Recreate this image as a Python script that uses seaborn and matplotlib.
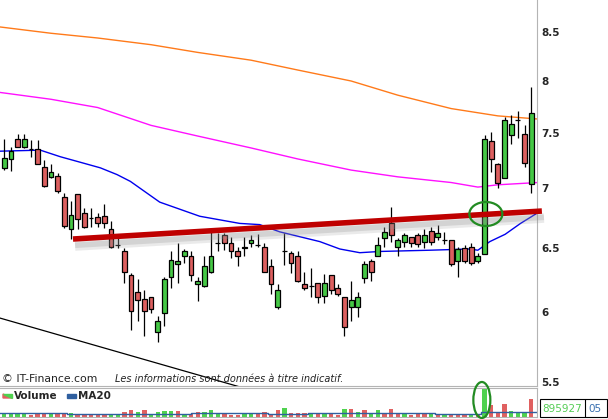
import numpy as np
import seaborn as sns
import matplotlib.pyplot as plt
import matplotlib.patheffects as pe
from matplotlib.patches import Ellipse, Rectangle, Polygon
from matplotlib.transforms import ScaledTranslation

sns.set_style("white")
plt.rcParams['font.family'] = ['DejaVu Sans']

# bougies
opens = [7.18, 7.26, 7.44, 7.37, 7.35, 7.35, 7.19, 7.10, 7.11, 6.92,
         6.65, 6.95, 6.79, 6.745, 6.75, 6.76, 6.65, 6.52, 6.47, 6.28,
         6.15, 6.10, 6.11, 5.85, 5.99, 6.27, 6.37, 6.43, 6.43, 6.21,
         6.20, 6.31, 6.54, 6.60, 6.54, 6.47, 6.51, 6.54, 6.52, 6.51,
         6.35, 6.04, 6.47, 6.46, 6.43, 6.21, 6.20, 6.22, 6.12, 6.28,
         6.18, 6.11, 6.04, 6.04, 6.26, 6.39, 6.43, 6.58, 6.70, 6.51,
         6.55, 6.59, 6.60, 6.55, 6.64, 6.59, 6.56, 6.56, 6.39, 6.50,
         6.51, 6.39, 6.45, 7.42, 7.21, 7.09, 7.48, 7.62, 7.49, 7.04]
highs = [7.44, 7.37, 7.49, 7.49, 7.43, 7.43, 7.25, 7.21, 7.13, 6.96,
         6.89, 6.95, 6.83, 6.83, 6.79, 6.86, 6.72, 6.60, 6.50, 6.30,
         6.25, 6.17, 6.11, 5.97, 6.27, 6.47, 6.54, 6.49, 6.47, 6.27,
         6.43, 6.63, 6.62, 6.62, 6.59, 6.51, 6.59, 6.60, 6.61, 6.54,
         6.41, 6.21, 6.62, 6.47, 6.47, 6.31, 6.34, 6.22, 6.29, 6.28,
         6.21, 6.11, 6.24, 6.15, 6.39, 6.41, 6.59, 6.67, 6.84, 6.58,
         6.62, 6.59, 6.62, 6.65, 6.67, 6.69, 6.63, 6.56, 6.51, 6.52,
         6.54, 6.46, 7.48, 7.51, 7.22, 7.65, 7.67, 7.71, 7.57, 7.94]
lows = [7.16, 7.15, 7.37, 7.36, 7.28, 7.21, 7.01, 7.09, 6.96, 6.66,
        6.57, 6.65, 6.66, 6.67, 6.67, 6.66, 6.50, 6.50, 6.22, 5.87,
        5.93, 5.82, 5.99, 5.78, 5.90, 6.18, 6.22, 6.38, 6.24, 6.08,
        6.19, 6.30, 6.47, 6.48, 6.42, 6.35, 6.43, 6.51, 6.51, 6.31,
        6.14, 6.02, 6.36, 6.30, 6.23, 6.17, 6.11, 6.07, 6.07, 6.14,
        6.12, 5.82, 5.93, 5.96, 6.22, 6.24, 6.43, 6.51, 6.55, 6.43,
        6.51, 6.51, 6.51, 6.50, 6.52, 6.56, 6.53, 6.35, 6.27, 6.38,
        6.36, 6.38, 6.45, 7.14, 7.00, 7.09, 7.40, 7.45, 7.19, 6.96]
closes = [7.27, 7.33, 7.37, 7.44, 7.35, 7.21, 7.02, 7.14, 6.98, 6.68,
          6.77, 6.74, 6.67, 6.745, 6.70, 6.70, 6.51, 6.52, 6.31, 6.01,
          6.09, 6.01, 6.02, 5.93, 6.25, 6.40, 6.39, 6.47, 6.28, 6.24,
          6.35, 6.43, 6.54, 6.54, 6.47, 6.43, 6.50, 6.56, 6.52, 6.31,
          6.21, 6.17, 6.47, 6.38, 6.24, 6.18, 6.20, 6.11, 6.22, 6.17,
          6.14, 5.89, 6.09, 6.11, 6.37, 6.31, 6.52, 6.63, 6.60, 6.56,
          6.60, 6.54, 6.53, 6.60, 6.55, 6.62, 6.56, 6.37, 6.49, 6.39,
          6.38, 6.43, 7.44, 7.26, 7.05, 7.62, 7.58, 7.62, 7.22, 7.69]

volumes = [140e3, 105e3, 105e3, 105e3, 70e3, 176e3, 176e3, 105e3, 105e3, 176e3,
           193e3, 140e3, 88e3, 140e3, 140e3, 140e3, 140e3, 70e3, 211e3, 351e3,
           211e3, 316e3, 140e3, 211e3, 264e3, 264e3, 264e3, 88e3, 140e3, 246e3,
           211e3, 316e3, 193e3, 176e3, 88e3, 70e3, 123e3, 123e3, 140e3, 211e3,
           140e3, 316e3, 422e3, 176e3, 176e3, 176e3, 140e3, 140e3, 140e3, 140e3,
           70e3, 369e3, 369e3, 211e3, 316e3, 176e3, 351e3, 176e3, 369e3, 176e3,
           123e3, 70e3, 123e3, 123e3, 140e3, 70e3, 140e3, 140e3, 123e3, 140e3,
           70e3, 70e3, 1440e3, 580e3, 228e3, 632e3, 281e3, 228e3, 228e3, 895927]
vol_dir = list("gggg" "rrrg" "rrgr" "rrrr" "ggrr" "grgg" "ggrg" "rrgg"
               "grrr" "ggrr" "rrgr" "rrgr" "grrg" "rgrg" "grrr" "grrr"
               "grgr" "rrgr" "grrr" "gggr" "rgrr")[:80]

# moyennes mobiles
ma_long_x = [-1, 7, 14, 22, 29, 37, 44, 52, 59, 67, 74, 80]
ma_long = [8.56, 8.49, 8.44, 8.37, 8.29, 8.21, 8.11, 8.00, 7.86, 7.73, 7.66, 7.63]
ma_mid_x = [-1, 7, 14, 22, 29, 37, 44, 52, 59, 67, 71, 74, 80]
ma_mid = [7.89, 7.82, 7.74, 7.57, 7.47, 7.36, 7.26, 7.16, 7.10, 7.05, 7.01, 7.03, 7.05]
ma_short_x = [-1, 5.4, 8.4, 11.4, 14.4, 16.9, 18.9, 23.3, 29.3, 35.3, 38.3, 41.3,
              44.3, 47.3, 50.3, 53.3, 56.3, 63.8, 69.8, 71, 72.8, 75.1, 77.4, 80]
ma_short = [7.33, 7.34, 7.28, 7.23, 7.18, 7.12, 7.06, 6.88, 6.76, 6.70, 6.69, 6.63,
            6.59, 6.55, 6.49, 6.46, 6.47, 6.48, 6.49, 6.48, 6.55, 6.61, 6.70, 6.79]
vma_x = [-1, 9.4, 28, 39.5, 45.5, 52.6, 64.6, 71.5, 80]
vma = [176e3, 140e3, 193e3, 140e3, 176e3, 193e3, 123e3, 211e3, 211e3]

trend_x = [10.3, 80.6]
trend_y = [6.571, 6.804]
chan_x = [-1, 40]
chan_y = [5.96, 5.405]

price_ticks = [5.5, 6, 6.5, 7, 7.5, 8, 8.5]
price_labels = ['5.5', '6', '6.5', '7', '7.5', '8', '8.5']

RED, GREEN = '#dc5f5f', '#45c845'
W, H = 608, 419
fig = plt.figure(figsize=(6.08, 4.19), dpi=100)
ax = fig.add_axes([0, 1 - 386 / H, 537 / W, 386 / H])
axv = fig.add_axes([0, 1 - 416.5 / H, 537 / W, 28.5 / H])

idx = np.arange(len(opens))
o = np.array(opens)
c = np.array(closes)
body_col = np.where(c > o, GREEN, np.where(c < o, RED, 'black'))

# moyennes mobiles
sns.lineplot(x=ma_long_x, y=ma_long, ax=ax, color='#ff7a1a', lw=1, zorder=2)
sns.lineplot(x=ma_mid_x, y=ma_mid, ax=ax, color='#ff10ff', lw=1, zorder=2)
sns.lineplot(x=ma_short_x, y=ma_short, ax=ax, color='#0000ee', lw=1, zorder=2)

# bougies
ax.vlines(idx, lows, highs, color='black', lw=0.9, zorder=3)
ax.bar(idx, np.abs(c - o), bottom=np.minimum(o, c), width=0.72, color=body_col,
       edgecolor='black', linewidth=0.9, zorder=4)

ax.plot(chan_x, chan_y, color='black', lw=0.9, zorder=3)
ax.plot(trend_x, trend_y, color='#bf0000', lw=4, solid_capstyle='butt', zorder=5,
        clip_on=False,
        path_effects=[pe.SimpleLineShadow(offset=(1.5, -5), shadow_color='#909090', alpha=0.18, linewidth=7),
                      pe.SimpleLineShadow(offset=(1.5, -4.5), shadow_color='#909090', alpha=0.25, linewidth=4),
                      pe.Normal()])

ell = Ellipse((0, 0), 0.33, 0.24, fill=False, ec='#228b22', lw=1.6, zorder=6, clip_on=False,
              transform=fig.dpi_scale_trans + ScaledTranslation(72.2, 6.779, ax.transData))
ax.add_patch(ell)

ax.set_yscale('log')
ax.set_ylim(5.472, 8.849)
ax.set_xlim(-0.645, 79.87)
ax.set_yticks(price_ticks, labels=price_labels, fontweight='bold')
ax.yaxis.set_minor_locator(plt.NullLocator())
ax.yaxis.tick_right()
ax.tick_params(axis='y', length=0, pad=3, labelsize=7.5)
ax.set_xticks([])
for s in ['left', 'top']:
    ax.spines[s].set_visible(False)
for s in ['right', 'bottom']:
    ax.spines[s].set_color('#b4b4b4')

# volume
sns.barplot(x=idx, y=volumes, hue=vol_dir, palette={'r': '#e06060', 'g': '#4fd24f'},
            native_scale=True, dodge=False, width=0.65, saturation=1, errorbar=None,
            legend=False, linewidth=0, ax=axv)
sns.lineplot(x=vma_x, y=vma, ax=axv, color='#2f5f9f', lw=1, drawstyle='steps-post')
axv.set_xlim(-0.645, 79.87)
axv.set_ylim(0, 1.48e6)
axv.set(xlabel='', ylabel='', xticks=[], yticks=[])
axv.spines['left'].set_visible(False)
for s in ['right', 'bottom', 'top']:
    axv.spines[s].set_color('#b4b4b4')
ell2 = Ellipse((0, 0), 0.17, 0.36, fill=False, ec='#228b22', lw=1.6, zorder=6, clip_on=False,
               transform=fig.dpi_scale_trans + ScaledTranslation(71.6, 857e3, axv.transData))
axv.add_patch(ell2)


def fp(x, y):
    return (x / W, 1 - y / H)


fig.text(*fp(2, 379), '© IT-Finance.com', fontsize=7.8, color='#222222', va='center')
fig.text(*fp(115, 379), 'Les informations sont données à titre indicatif.', fontsize=7,
         style='italic', color='#222222', va='center')

# légende volume
fig.patches.append(Polygon([fp(3, 398), fp(12, 398), fp(3, 394)], closed=True,
                           transform=fig.transFigure, color='#e06060'))
fig.patches.append(Polygon([fp(12, 398), fp(12, 394), fp(3, 394)], closed=True,
                           transform=fig.transFigure, color='#4fd24f'))
fig.text(*fp(14, 396), 'Volume', fontsize=7.5, weight='bold', va='center')
fig.patches.append(Rectangle(fp(67, 398), 9 / W, 4 / H, transform=fig.transFigure, color='#2f5f9f'))
fig.text(*fp(78, 396), 'MA20', fontsize=7.5, weight='bold', va='center')

# boîte valeur
fig.patches.append(Rectangle(fp(540, 417), 67 / W, 18 / H, transform=fig.transFigure,
                             fill=False, ec='black', lw=0.8))
fig.add_artist(plt.Line2D([585 / W, 585 / W], [1 - 417 / H, 1 - 399 / H], color='black', lw=0.8))
fig.text(*fp(542, 408.5), f'{volumes[-1]:.0f}', fontsize=7.5, color='#55cc55', va='center')
fig.text(*fp(588, 408.5), '05', fontsize=7.5, color='#3a70b0', va='center')

fig.savefig('out.png', dpi=100)
